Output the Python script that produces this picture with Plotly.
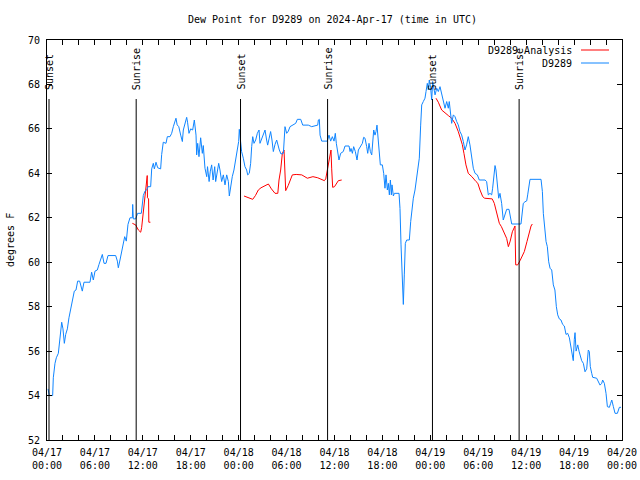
import plotly.graph_objects as go
from datetime import datetime, timedelta

chart_title = "Dew Point for D9289 on 2024-Apr-17 (time in UTC)"
y_title = "degrees F"
series_names = ["D9289 Analysis", "D9289"]
series_colors = ["#ff0000", "#0f85ff"]
base_time = datetime(2024, 4, 17, 0, 0)

# D9289 observations: hours after 2024-04-17 00:00 UTC, dew point (F)
obs_hours = [
    0.13, 0.29, 0.71, 0.79, 1.0, 1.17, 1.42, 1.63, 1.84, 2.0, 2.17, 2.34, 2.55, 2.75, 2.96,
    3.21, 3.42, 3.63, 3.84, 4.09, 4.21, 4.42, 4.63, 5.38, 5.59, 5.8, 6.01, 6.3, 6.51, 6.72,
    6.93, 7.14, 7.39, 7.64, 8.6, 8.81, 8.93, 9.14, 9.35, 9.56, 9.73, 9.93, 10.14, 10.39,
    10.69, 10.73, 10.81, 11.1, 11.23, 11.35, 11.81, 11.98, 12.06, 12.27, 12.48, 12.65,
    12.98, 13.11, 13.31, 13.44, 13.65, 13.86, 14.23, 14.36, 14.56, 14.9, 15.07, 15.4,
    15.61, 15.82, 16.03, 16.15, 16.3, 16.5, 16.74, 16.95, 17.07, 17.28, 17.49, 17.6,
    17.78, 17.99, 18.24, 18.45, 18.66, 18.74, 18.87, 19.03, 19.24, 19.45, 19.57, 19.78,
    20.0, 20.1, 20.3, 20.45, 20.62, 20.8, 21.0, 21.12, 21.3, 21.5, 21.66, 21.87, 22.08,
    22.29, 22.5, 22.71, 22.83, 23.0, 23.2, 23.41, 23.63, 23.83, 24.0, 24.08, 24.2, 24.37,
    24.58, 24.79, 25.0, 25.13, 25.33, 25.5, 25.63, 25.76, 25.92, 26.13, 26.34, 26.55,
    26.67, 26.88, 27.09, 27.3, 27.5, 27.63, 27.8, 28.0, 28.17, 28.34, 28.55, 28.76,
    29.09, 29.3, 29.6, 29.72, 29.8, 30.01, 30.22, 30.43, 30.85, 31.14, 31.35, 31.77,
    32.02, 32.72, 33.14, 33.9, 33.98, 34.1, 34.19, 34.4, 35.1, 35.31, 35.52, 35.73,
    35.94, 36.1, 36.23, 36.39, 36.56, 36.77, 37.1, 37.32, 37.82, 37.95, 38.07, 38.24,
    38.4, 38.61, 38.82, 38.99, 39.32, 39.49, 39.65, 39.82, 40.03, 40.16, 40.32, 40.49,
    40.66, 40.78, 40.91, 41.07, 41.2, 41.32, 41.49, 41.61, 41.74, 41.99, 42.16, 42.32,
    42.45, 42.62, 42.74, 42.87, 43.0, 43.12, 43.2, 43.37, 43.5, 44.08, 44.2, 44.33,
    44.45, 44.54, 44.62, 44.74, 44.87, 45.04, 45.37, 45.54, 45.7, 45.87, 46.08, 46.2,
    46.37, 46.62, 46.79, 46.92, 47.12, 47.33, 47.46, 47.62, 47.75, 47.87, 48.04, 48.17,
    48.29, 48.46, 48.59, 48.8, 49.0, 49.21, 49.42, 49.62, 49.84, 50.05, 50.25, 50.37,
    50.5, 50.67, 50.88, 51.09, 51.3, 51.5, 51.71, 51.92, 52.13, 52.34, 52.54, 52.75,
    52.96, 53.17, 53.38, 53.6, 53.89, 54.13, 54.85, 55.05, 55.26, 55.47, 55.68, 55.8,
    55.97, 56.1, 56.22, 56.39, 56.56, 56.72, 56.93, 57.13, 57.35, 57.56, 57.85, 57.98,
    58.19, 59.35, 59.52, 59.64, 59.85, 60.07, 60.19, 60.36, 60.48, 61.86, 62.03, 62.15,
    62.36, 62.49, 62.65, 62.82, 62.99, 63.2, 63.4, 63.6, 63.78, 63.95, 64.15, 64.36,
    64.57, 64.78, 64.99, 65.2, 65.41, 65.7, 65.9, 66.03, 66.12, 66.25, 66.46, 66.62,
    66.79, 66.95, 67.16, 67.37, 67.58, 67.78, 67.91, 68.03, 68.21, 68.33, 68.83, 69.04,
    69.25, 69.46, 69.58, 69.79, 70.0, 70.17, 70.42, 70.58, 70.72, 70.92, 71.13, 71.42,
    71.67, 71.88,
]
obs_values = [
    54.3, 54.0, 54.0, 54.8, 55.45, 55.7, 55.9, 56.5, 57.3, 57.0, 56.35, 56.75, 57.0, 57.5, 57.9,
    58.4, 58.7, 58.75, 59.15, 59.15, 58.95, 58.7, 59.1, 59.1, 59.55, 59.2, 59.6, 59.65, 59.9, 60.15,
    60.35, 59.95, 59.95, 60.3, 60.3, 60.05, 59.75, 60.1, 60.45, 60.85, 61.15, 60.95, 61.7, 62.0,
    62.0, 62.6, 61.95, 61.95, 62.05, 62.2, 62.2, 62.6, 63.0, 63.2, 63.25, 63.4,
    63.4, 64.2, 64.45, 64.2, 64.5, 64.25, 64.2, 64.85, 65.4, 65.35, 65.65, 65.65,
    65.8, 66.1, 66.33, 66.48, 66.18, 66.1, 65.72, 65.43, 65.95, 66.28, 66.52, 66.3,
    65.8, 66.0, 65.95, 66.4, 65.72, 64.83, 65.35, 64.75, 65.6, 64.9, 65.25, 64.23,
    63.85, 64.3, 63.63, 64.1, 64.38, 63.7, 64.3, 63.63, 64.1, 64.45, 64.15, 63.63, 63.93,
    63.48, 63.93, 63.63, 62.98, 63.4, 63.85, 64.15, 64.6, 65.05, 65.43, 65.98, 65.5, 64.98,
    64.68, 64.3, 64.15, 63.93, 64.0, 64.45, 65.2, 65.65, 65.35, 65.5, 65.8, 65.95,
    65.35, 65.55, 65.8, 65.95, 65.5, 65.27, 65.55, 65.88, 65.5, 64.98, 65.3, 65.5,
    65.05, 64.87, 64.9, 65.5, 66.1, 65.8, 65.9, 66.1, 66.17, 66.25, 66.43, 66.43,
    66.17, 66.17, 66.1, 66.17, 66.4, 66.43, 65.72, 65.45, 65.45, 65.72, 65.45, 65.65,
    65.45, 65.8, 65.35, 65.0, 64.6, 64.9, 64.98, 65.23, 65.23, 64.98, 65.12, 64.9,
    65.2, 64.98, 64.6, 65.05, 65.27, 65.35, 65.62, 65.58, 65.2, 64.9, 65.35, 64.98,
    64.83, 65.58, 65.95, 65.72, 65.88, 66.17, 65.43, 64.9, 64.38, 64.38, 64.0, 63.33,
    63.93, 63.25, 63.55, 63.03, 63.7, 63.03, 63.48, 62.98, 63.1, 63.1, 62.42, 60.78,
    59.43, 58.75, 58.1, 59.43, 60.85, 61.0, 61.0, 61.83, 62.42, 62.88, 63.25, 63.55,
    63.93, 64.68, 66.17, 67.08, 67.23, 67.38, 67.68, 68.05, 67.75, 68.2, 67.85, 67.3,
    68.13, 67.75, 67.53, 67.83, 67.68, 67.9, 67.6, 67.3, 66.93, 67.23, 66.93, 67.23,
    66.7, 66.25, 66.63, 66.55, 66.33, 66.18, 65.88, 65.73, 65.43, 65.05, 65.28, 65.65,
    65.28, 64.68, 64.23, 64.0, 63.93, 63.7, 63.7, 63.63, 63.03, 63.1, 63.03, 63.33,
    63.93, 64.35, 64.15, 63.63, 62.88, 63.1, 62.65, 61.9, 62.2, 62.38, 62.38, 62.13,
    61.72, 61.72, 62.2, 62.65, 62.72, 62.76, 63.03, 63.48, 63.73, 63.73, 63.18, 62.2,
    61.45, 60.93, 60.7, 60.02, 59.73, 59.65, 58.98, 58.75, 58.0, 57.63, 57.45, 57.4,
    57.2, 57.13, 56.75, 56.8, 56.6, 55.93, 55.57, 56.53, 56.83, 56.0, 56.28, 56.0,
    55.8, 55.57, 55.45, 55.07, 55.2, 56.05, 55.98, 55.3, 55.0, 54.82, 54.78, 54.62,
    54.47, 54.55, 54.7, 54.55, 54.1, 53.5, 53.47, 53.65, 53.8, 53.5, 53.2, 53.2,
    53.47, 53.47,
]

# D9289 Analysis: hours after base time (None marks a gap), dew point (F)
analysis_hours = [
    10.69, 11.1, 11.44, 11.73, 11.85, 11.98, 12.15, 12.3, 12.44, 12.55, 12.58, 12.72, 12.75, 12.95,
    None,
    24.67, 25.2, 25.76, 26.1, 26.46, 26.8, 27.17, 27.72, 28.1, 28.55, 28.9, 29.05, 29.26, 29.47,
    29.68, 29.75, 29.89, 30.2, 30.72, 31.2, 31.9, 32.6, 33.3, 33.9, 34.5, 34.73, 34.9, 35.1,
    35.3, 35.56, 35.65, 35.77, 36.0, 36.48, 36.9,
    None,
    48.71, 49.0, 49.42, 49.84, 50.25, 50.67, 51.09, 51.5, 51.8, 52.0, 52.21, 52.46, 52.75,
    53.2, 53.72, 53.95, 54.22, 54.56, 54.8, 55.47, 55.75, 56.01, 56.2, 56.39, 56.64, 56.9,
    57.22, 57.56, 57.77, 58.0, 58.27, 58.6, 58.69, 58.94, 59.23, 59.5, 59.77, 60.1, 60.36,
    60.61, 60.77,
]
analysis_values = [
    61.75, 61.68, 61.45, 61.35, 61.55, 62.0, 62.8, 63.2, 63.6, 63.9, 62.9, 62.85, 61.8, 61.8,
    None,
    62.98, 62.9, 62.83, 63.0, 63.25, 63.35, 63.43, 63.52, 63.3, 63.1, 63.1, 63.7, 64.15, 64.9,
    65.05, 64.0, 63.22, 63.45, 63.93, 63.95, 63.93, 63.78, 63.85, 63.8, 63.7, 63.67, 63.75, 64.15,
    64.6, 65.05, 64.2, 63.37, 63.4, 63.67, 63.7,
    None,
    67.38, 67.2, 66.85, 66.7, 66.6, 66.48, 66.25, 65.88, 65.58, 65.3, 64.9, 64.38, 64.0,
    63.85, 63.63, 63.55, 63.25, 62.95, 62.88, 62.88, 62.85, 62.65, 62.4, 62.13, 61.75, 61.6,
    61.37, 61.07, 60.7, 60.95, 61.37, 61.63, 59.88, 59.88, 60.07, 60.3, 60.48, 60.93, 61.3,
    61.63, 61.72,
]

sun_times = ["2024-04-17 00:15", "2024-04-17 11:10", "2024-04-18 00:14",
             "2024-04-18 11:08", "2024-04-19 00:16", "2024-04-19 11:07"]
sun_labels = ["Sunset", "Sunrise", "Sunset", "Sunrise", "Sunset", "Sunrise"]

x_tick_values = ["2024-04-17 00:00", "2024-04-17 06:00", "2024-04-17 12:00", "2024-04-17 18:00",
                 "2024-04-18 00:00", "2024-04-18 06:00", "2024-04-18 12:00", "2024-04-18 18:00",
                 "2024-04-19 00:00", "2024-04-19 06:00", "2024-04-19 12:00", "2024-04-19 18:00",
                 "2024-04-20 00:00"]
x_tick_labels = ["04/17<br>00:00", "04/17<br>06:00", "04/17<br>12:00", "04/17<br>18:00",
                 "04/18<br>00:00", "04/18<br>06:00", "04/18<br>12:00", "04/18<br>18:00",
                 "04/19<br>00:00", "04/19<br>06:00", "04/19<br>12:00", "04/19<br>18:00",
                 "04/20<br>00:00"]
y_tick_values = [52, 54, 56, 58, 60, 62, 64, 66, 68, 70]


def to_time(hours):
    return [None if h is None else base_time + timedelta(hours=h) for h in hours]


FONT = "DejaVu Sans Mono"

fig = go.Figure()
fig.add_trace(go.Scatter(x=to_time(analysis_hours), y=analysis_values, mode="lines",
                         name=series_names[0], connectgaps=False,
                         line=dict(color=series_colors[0], width=1)))
fig.add_trace(go.Scatter(x=to_time(obs_hours), y=obs_values, mode="lines",
                         name=series_names[1],
                         line=dict(color=series_colors[1], width=1)))

shapes = []
annotations = []
for t, lab in zip(sun_times, sun_labels):
    shapes.append(dict(type="line", xref="x", yref="paper", x0=t, x1=t, y0=0, y1=0.8525,
                       line=dict(color="black", width=1)))
    annotations.append(dict(x=t, xref="x", y=0.87, yref="paper", text=lab, textangle=-90,
                            showarrow=False, xanchor="center", yanchor="bottom",
                            font=dict(family=FONT, size=10, color="black")))

# manual key in gnuplot style (text right-aligned, sample to the right)
key_rows = [0.975, 0.9425]
for name, col, yk in zip(series_names, series_colors, key_rows):
    annotations.append(dict(x=0.9165, xref="paper", y=yk, yref="paper", text=name,
                            showarrow=False, xanchor="right", yanchor="middle",
                            font=dict(family=FONT, size=10, color="black")))
    shapes.append(dict(type="line", xref="paper", yref="paper", x0=0.9287, x1=0.9774,
                       y0=yk, y1=yk, line=dict(color=col, width=1)))

annotations.append(dict(x=0.4957, xref="paper", y=1.05, yref="paper", text=chart_title,
                        showarrow=False, xanchor="center", yanchor="middle",
                        font=dict(family=FONT, size=10, color="black")))
annotations.append(dict(x=-0.0643, xref="paper", y=0.5, yref="paper", text=y_title,
                        textangle=-90, showarrow=False, xanchor="center", yanchor="middle",
                        font=dict(family=FONT, size=10, color="black")))

fig.update_layout(
    template="none",
    width=640, height=480, autosize=False,
    margin=dict(l=47, r=18, t=40, b=40, pad=0),
    paper_bgcolor="white", plot_bgcolor="white",
    showlegend=False, hovermode=False,
    font=dict(family=FONT, size=10, color="black"),
    shapes=shapes, annotations=annotations,
)
fig.update_xaxes(
    type="date", range=["2024-04-17 00:00", "2024-04-20 00:00"], automargin=False,
    tickmode="array", tickvals=x_tick_values, ticktext=x_tick_labels,
    ticks="inside", ticklen=5, tickcolor="black", tickwidth=1,
    minor=dict(tickmode="linear", tick0="2024-04-17 00:00", dtick=2 * 3600 * 1000,
               ticks="inside", ticklen=5, tickcolor="black", tickwidth=1, showgrid=False),
    showline=True, linecolor="black", linewidth=1, mirror="allticks",
    showgrid=False, zeroline=False, ticklabelstandoff=3,
    tickfont=dict(family=FONT, size=10, color="black"),
)
fig.update_yaxes(
    range=[52, 70], tickmode="array", tickvals=y_tick_values, automargin=False,
    ticks="inside", ticklen=5, tickcolor="black", tickwidth=1,
    showline=True, linecolor="black", linewidth=1, mirror="allticks",
    showgrid=False, zeroline=False, ticklabelstandoff=4,
    tickfont=dict(family=FONT, size=10, color="black"),
)

fig.write_html("out.html", config={"responsive": False, "displayModeBar": False},
               post_script="document.body.style.margin='0';document.body.style.overflow='hidden';")
